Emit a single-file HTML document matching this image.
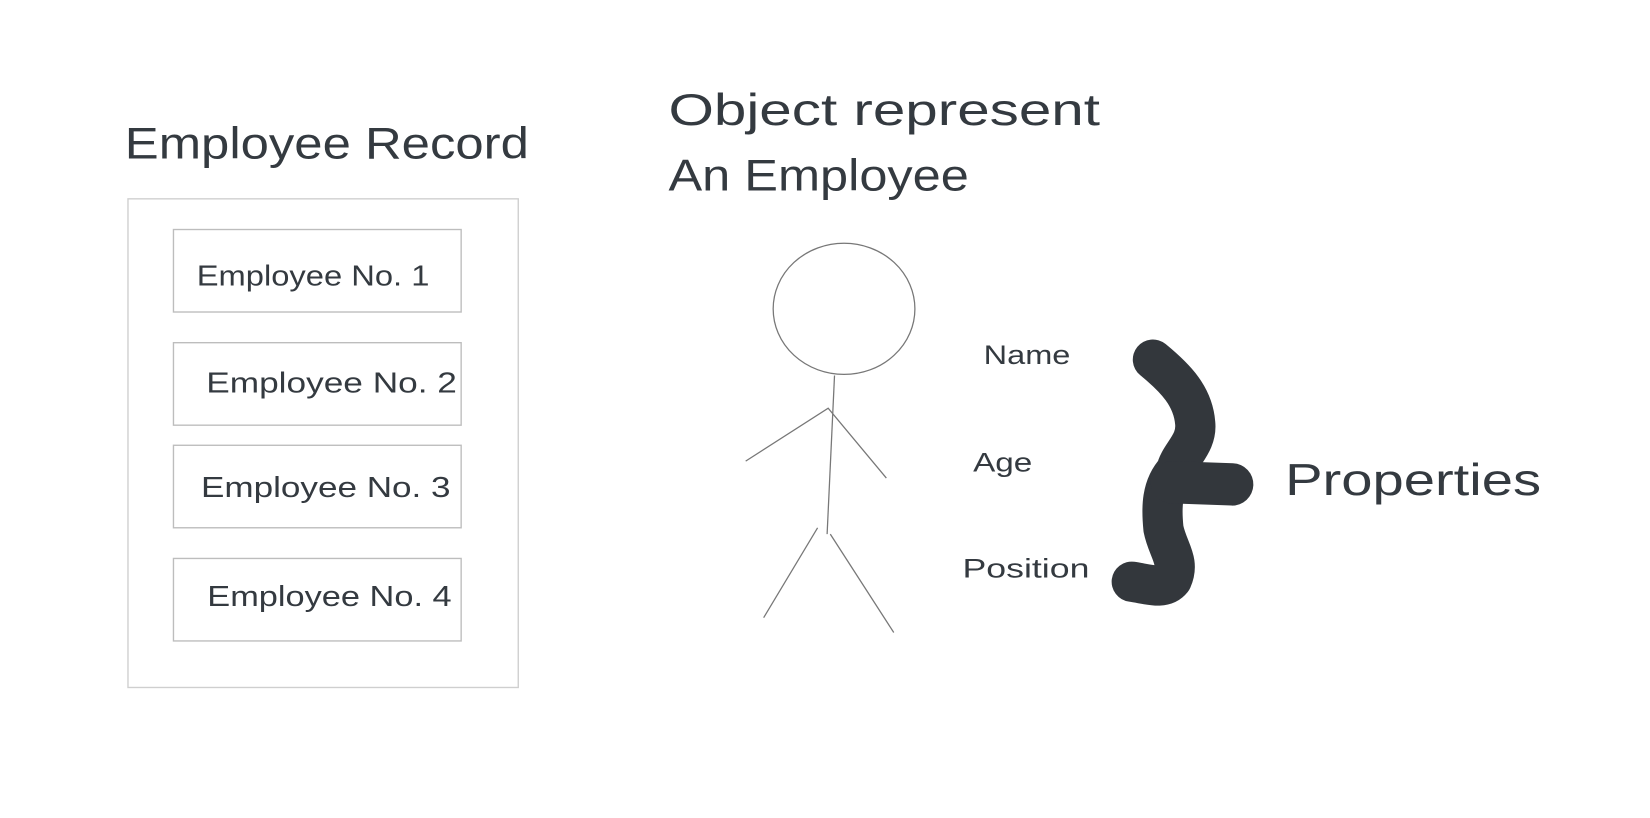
<!DOCTYPE html>
<html><head><meta charset="utf-8"><style>
html,body{margin:0;padding:0;background:#fff;}
svg{display:block;}
text{font-family:"Liberation Sans",sans-serif;fill:#343a40;}
</style></head><body>
<svg width="1650" height="818" viewBox="0 0 1560 773.4" preserveAspectRatio="none">
<rect width="1560" height="774" fill="#fff"/>
<text x="118" y="150" font-size="42" textLength="382" lengthAdjust="spacingAndGlyphs">Employee Record</text>
<rect x="121" y="188" width="369" height="462" fill="none" stroke="#cfcfcf" stroke-width="1.3"/>
<g fill="none" stroke="#bdbdbd" stroke-width="1.3">
<rect x="164" y="217" width="272" height="78"/>
<rect x="164" y="324" width="272" height="78"/>
<rect x="164" y="421" width="272" height="78"/>
<rect x="164" y="528" width="272" height="78"/>
</g>
<g font-size="27">
<text x="186" y="270" textLength="220" lengthAdjust="spacingAndGlyphs">Employee No. 1</text>
<text x="195" y="371" textLength="237" lengthAdjust="spacingAndGlyphs">Employee No. 2</text>
<text x="190" y="470" textLength="236" lengthAdjust="spacingAndGlyphs">Employee No. 3</text>
<text x="196" y="573" textLength="231" lengthAdjust="spacingAndGlyphs">Employee No. 4</text>
</g>
<text x="632" y="118" font-size="42" textLength="408" lengthAdjust="spacingAndGlyphs">Object represent</text>
<text x="632" y="180" font-size="42" textLength="284" lengthAdjust="spacingAndGlyphs">An Employee</text>
<g fill="none" stroke="#777" stroke-width="1.2">
<ellipse cx="798" cy="292" rx="67" ry="62"/>
<line x1="789" y1="355" x2="782" y2="505"/>
<polyline points="705,436 783,386 838,452"/>
<line x1="773" y1="499" x2="722" y2="584"/>
<line x1="785" y1="505" x2="845" y2="598"/>
</g>
<g font-size="25">
<text x="930" y="344" textLength="82" lengthAdjust="spacingAndGlyphs">Name</text>
<text x="920" y="446" textLength="56" lengthAdjust="spacingAndGlyphs">Age</text>
<text x="910" y="546" textLength="120" lengthAdjust="spacingAndGlyphs">Position</text>
</g>
<g fill="none" stroke="#33373c" stroke-linecap="round" stroke-linejoin="round">
<path d="M1090,340 C1112,358 1128,375 1130,400 C1132,420 1115,430 1112,445 C1098,460 1098,480 1100,500 C1104,520 1116,530 1108,548 C1100,558 1085,552 1070,550" stroke-width="38"/>
<path d="M1108,456 L1165,458" stroke-width="40"/>
</g>
<text x="1215" y="468" font-size="42" textLength="242" lengthAdjust="spacingAndGlyphs">Properties</text>
</svg>
</body></html>
